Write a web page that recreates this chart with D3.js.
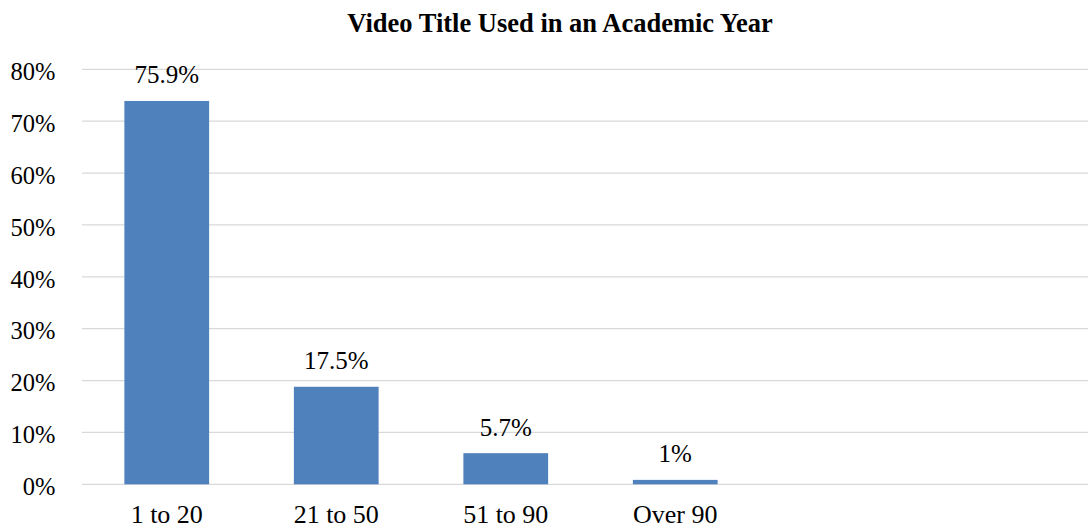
<!DOCTYPE html>
<html>
<head>
<meta charset="utf-8">
<script src="https://cdn.jsdelivr.net/npm/d3@7"></script>
<style>
  html, body { margin: 0; padding: 0; background: #fff; }
  svg { display: block; }
  text { font-family: "Liberation Serif", "Times New Roman", serif; fill: #000; }
</style>
</head>
<body>
<svg id="chart" width="1088" height="528"></svg>
<script>
const title = "Video Title Used in an Academic Year";
const categories = ["1 to 20", "21 to 50", "51 to 90", "Over 90"];
const values = [73.9, 18.8, 6.0, 0.85];
const valueLabels = ["75.9%", "17.5%", "5.7%", "1%"];
const yTicks = [0, 10, 20, 30, 40, 50, 60, 70, 80];

(function () {
const svg = d3.select("#chart");
const W = 1088, H = 528;
const mLeft = 82, mTop = 69.3, mBottom = 484.3;

const x = d3.scaleBand().domain(categories).range([mLeft, mLeft + 4 * 169.5])
  .paddingInner(0.5).paddingOuter(0.25);
const y = d3.scaleLinear().domain([0, 80]).range([mBottom, mTop]);

// gridlines
svg.append("g").selectAll("line").data(yTicks).join("line")
  .attr("x1", mLeft).attr("x2", W)
  .attr("y1", d => y(d)).attr("y2", d => y(d))
  .attr("stroke", "#d9d9d9").attr("stroke-width", 1.3);

// y axis labels
const yAxis = d3.axisLeft(y).tickValues(yTicks).tickFormat(d => d + "%").tickSize(0).tickPadding(0);
const gy = svg.append("g").attr("transform", `translate(55.5,0)`).call(yAxis);
gy.select(".domain").remove();
gy.selectAll("text").attr("font-size", 24.5).attr("fill", "#000").attr("dy", "0.42em");

// bars
svg.append("g").selectAll("rect").data(categories).join("rect")
  .attr("x", d => x(d)).attr("width", x.bandwidth())
  .attr("y", (d, i) => y(values[i]))
  .attr("height", (d, i) => y(0) - y(values[i]))
  .attr("fill", "#4f81bd");

// value labels
svg.append("g").selectAll("text").data(categories).join("text")
  .attr("x", d => x(d) + x.bandwidth() / 2)
  .attr("y", (d, i) => y(values[i]) - 17.5)
  .attr("text-anchor", "middle").attr("font-size", 25)
  .text((d, i) => valueLabels[i]);

// x axis labels
const xAxis = d3.axisBottom(x).tickSize(0).tickPadding(0);
const gx = svg.append("g").attr("transform", `translate(0,${mBottom})`).call(xAxis);
gx.select(".domain").remove();
gx.selectAll("text").attr("font-size", 26).attr("fill", "#000")
  .attr("dy", null).attr("y", 38.5);

// title
svg.append("text").attr("x", 560).attr("y", 31.5).attr("text-anchor", "middle")
  .attr("font-size", 26.5).attr("font-weight", "bold").text(title);
})();
</script>
</body>
</html>
